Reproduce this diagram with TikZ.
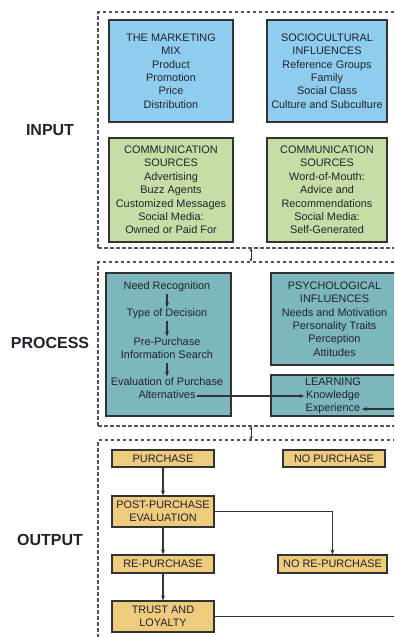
\documentclass[tikz,border=0pt]{standalone}
\usepackage{fontspec}
\setmainfont{Liberation Sans}
\usetikzlibrary{arrows.meta}
\definecolor{mixblue}{HTML}{8FCDEF}
\definecolor{comgreen}{HTML}{C6DEA6}
\definecolor{procteal}{HTML}{7BB7BD}
\definecolor{outtan}{HTML}{EFCB7E}
\definecolor{boxline}{HTML}{333333}
\definecolor{txt}{HTML}{22222C}
\definecolor{framecol}{HTML}{555555}
\begin{document}
\begin{tikzpicture}[x=1pt,y=-1pt,
  every node/.style={text=txt},
  box/.style={draw=boxline, line width=1.2pt, align=center, inner sep=0pt,
    font=\fontsize{10.9}{13.4}\selectfont},
  frame/.style={draw=framecol, line width=1.1pt, dash pattern=on 3.5pt off 2.5pt,
    anchor=north west, inner sep=0pt, outer sep=0pt},
  lbl/.style={inner sep=1.5pt, font=\fontsize{10.9}{13.4}\selectfont, align=center,
    text height=7.8pt, text depth=2pt},
  sect/.style={font=\fontsize{16}{18}\selectfont\bfseries, text=txt},
  arr/.style={draw=boxline, line width=1.1pt, -{Stealth[length=5pt,width=4pt]}},
  link/.style={draw=boxline, line width=1pt,
    {Stealth[length=3pt,width=3pt]}-{Stealth[length=3pt,width=3pt]}}
]
\useasboundingbox (0,0) rectangle (394,637);
\fill[white] (0,0) rectangle (394,637);
\clip (0,0) rectangle (394,637);

% section frames
\node[frame, minimum width=330pt, minimum height=236pt] (fin) at (98,12) {};
\node[frame, minimum width=330pt, minimum height=164pt] (fproc) at (98,262) {};
\node[frame, minimum width=330pt, minimum height=220pt] (fout) at (98,440) {};

% section labels
\node[sect] (lin) at (50,130) {INPUT};
\node[sect] (lproc) at (50,343) {PROCESS};
\node[sect] (lout) at (50,540) {OUTPUT};

% links between frames
\coordinate (l1a) at (251,248.5);
\coordinate (l1b) at (251,261.5);
\coordinate (l2a) at (251,426.5);
\coordinate (l2b) at (251,439.5);
\draw[link] (l1a) -- (l1b);
\draw[link] (l2a) -- (l2b);

% INPUT
\node[box, fill=mixblue, minimum width=124pt, minimum height=102pt] (mix) at (171,71)
  {THE MARKETING\\MIX\\Product\\Promotion\\Price\\Distribution};
\node[box, fill=mixblue, minimum width=120pt, minimum height=102pt] (soc) at (327,71)
  {SOCIOCULTURAL\\INFLUENCES\\Reference Groups\\Family\\Social Class\\Culture and Subculture};
\node[box, fill=comgreen, minimum width=124pt, minimum height=104pt] (com1) at (171,190)
  {COMMUNICATION\\SOURCES\\Advertising\\Buzz Agents\\Customized Messages\\Social Media:\\Owned or Paid For};
\node[box, fill=comgreen, minimum width=120pt, minimum height=104pt] (com2) at (327,190)
  {COMMUNICATION\\SOURCES\\Word-of-Mouth:\\Advice and\\Recommendations\\Social Media:\\Self-Generated};

% PROCESS
\node[box, fill=procteal, minimum width=125pt, minimum height=143pt] (dec) at (168.5,344.5) {};
\node[lbl] (need) at (167,287) {Need Recognition};
\node[lbl] (type) at (167,314) {Type of Decision};
\node[lbl] (pre) at (167,343) {Pre-Purchase};
\node[lbl] (info) at (167,356) {Information Search};
\node[lbl] (eval) at (167,383) {Evaluation of Purchase};
\node[lbl] (alt) at (167,396) {Alternatives};
\draw[arr] (need) -- (type);
\draw[arr] (type) -- (pre);
\draw[arr] (info) -- (eval);

\node[box, fill=procteal, minimum width=127pt, minimum height=92pt] (psy) at (334.5,319)
  {PSYCHOLOGICAL\\INFLUENCES\\Needs and Motivation\\Personality Traits\\Perception\\Attitudes};
\node[box, fill=procteal, minimum width=127pt, minimum height=41pt] (learn) at (334.5,395.5) {};
\node[lbl] (lhead) at (333,383) {LEARNING};
\node[lbl] (know) at (333,396) {Knowledge};
\node[lbl] (exper) at (333,409) {Experience};
\draw[arr] (alt.east) -- (alt.east -| know.west);
\coordinate (expin) at (400,409);
\draw[arr] (expin) -- (exper.east);

% OUTPUT
\node[box, fill=outtan, minimum width=102pt, minimum height=17pt] (pur) at (163,458.5) {PURCHASE};
\node[box, fill=outtan, minimum width=102pt, minimum height=17pt] (nopur) at (334,458.5) {NO PURCHASE};
\node[box, fill=outtan, minimum width=102pt, minimum height=31pt] (post) at (163,511.5) {POST-PURCHASE\\EVALUATION};
\node[box, fill=outtan, minimum width=102pt, minimum height=18pt] (rep) at (163,564) {RE-PURCHASE};
\node[box, fill=outtan, minimum width=109pt, minimum height=18pt] (norep) at (332.5,564) {NO RE-PURCHASE};
\node[box, fill=outtan, minimum width=102pt, minimum height=31pt] (trust) at (163,616.5) {TRUST AND\\LOYALTY};
\draw[arr] (pur) -- (post);
\draw[arr] (post) -- (rep);
\draw[arr] (rep) -- (trust);
\draw[arr] (post.east) -| (norep.north);
\coordinate (trustout) at (400,616.5);
\draw[draw=boxline, line width=1.1pt] (trust.east) -- (trustout);
\end{tikzpicture}
\end{document}
